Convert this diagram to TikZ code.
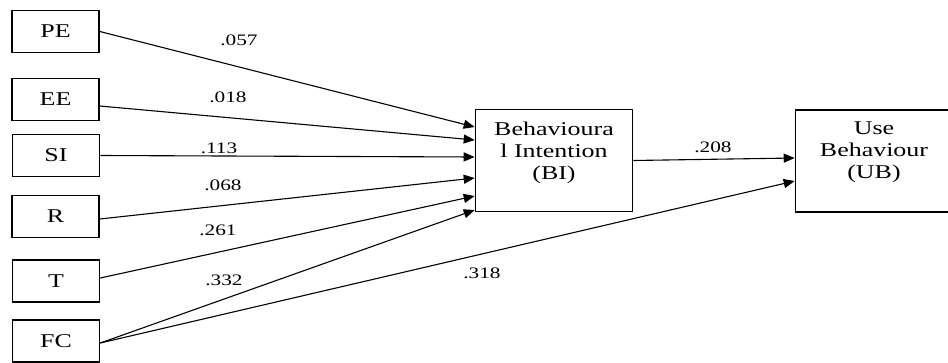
\documentclass[tikz,border=0pt]{standalone}
\usepackage{fontspec}
\setmainfont[FakeStretch=1.33]{Liberation Serif}
\usetikzlibrary{arrows.meta}

\begin{document}
\begin{tikzpicture}[
	x=1pt, y=-1pt, % page units, origin at the top left corner
	% Style for the small construct boxes on the left
	construct/.style={
		rectangle,
		draw=black,
		line width=1.6pt,
		minimum width=87pt,
		minimum height=42pt,
		inner sep=0pt,
		font=\fontsize{19.5}{22}\selectfont
	},
	% Style for the two large boxes on the right
	outcome/.style={
		rectangle,
		draw=black,
		line width=1.6pt,
		minimum width=157pt,
		minimum height=102pt,
		inner sep=0pt
	},
	% Style for the text inside the large boxes
	outcome text/.style={
		align=center,
		anchor=north,
		inner sep=0pt,
		font=\fontsize{19.5}{22}\selectfont
	},
	% Style for the arrows between the boxes
	link/.style={
		draw=black,
		line width=1.1pt,
		-{Triangle[length=11pt,width=9pt]}
	},
	% Style for the path coefficients
	coef/.style={
		inner sep=0pt,
		font=\fontsize{16}{18}\selectfont
	}
	]
	
	\useasboundingbox (0,0) rectangle (948,362);
	\clip (0,0) rectangle (948,362);
	
	% 1. Construct boxes on the left
	\node[construct] (PE) at (55.5, 31.5) {PE};
	\node[construct] (EE) at (55.5, 99.5) {EE};
	\node[construct] (SI) at (56, 155.5) {SI};
	\node[construct] (R) at (55.5, 216.5) {R};
	\node[construct] (T) at (56, 281) {T};
	\node[construct] (FC) at (56, 341) {FC};
	
	% 2. Large boxes and their text
	\node[outcome] (BI) at (554, 160.5) {};
	\node[outcome text] (BItext) at (554, 121.5) {Behavioura\\l Intention\\(BI)};
	
	\node[outcome] (UB) at (874, 161) {};
	\node[outcome text] (UBtext) at (874, 121.5) {Use\\Behaviour\\(UB)};
	
	% 3. Arrows into BI
	\draw[link] (PE.east) -- ([yshift=33.5pt]BI.west);
	\draw[link] ([yshift=-6.5pt]EE.east) -- ([yshift=20.5pt]BI.west);
	\draw[link] (SI.east) -- ([yshift=3.5pt]BI.west);
	\draw[link] ([yshift=-2.5pt]R.east) -- ([yshift=-17.5pt]BI.west);
	\draw[link] ([yshift=3pt]T.east) -- ([yshift=-35.5pt]BI.west);
	\draw[link] ([yshift=-2pt]FC.east) -- ([yshift=-49.5pt]BI.west);
	
	% Arrows into UB
	\draw[link] (BI.east) -- ([yshift=3pt]UB.west);
	\draw[link] ([yshift=-2pt]FC.east) -- ([yshift=-20pt]UB.west);
	
	% 4. Coefficients
	\node[coef] (c057) at (239, 40) {.057};
	\node[coef] (c018) at (228, 97) {.018};
	\node[coef] (c113) at (219, 148) {.113};
	\node[coef] (c068) at (223, 185) {.068};
	\node[coef] (c261) at (218, 230) {.261};
	\node[coef] (c332) at (224, 280) {.332};
	\node[coef] (c318) at (482, 273) {.318};
	\node[coef] (c208) at (713, 147) {.208};
	
\end{tikzpicture}
\end{document}
